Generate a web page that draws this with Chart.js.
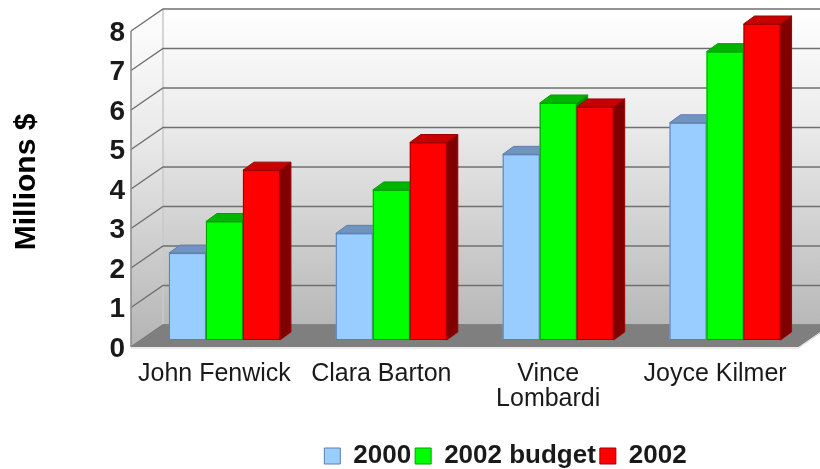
<!DOCTYPE html>
<html><head><meta charset="utf-8">
<script src="https://cdn.jsdelivr.net/npm/chart.js@4/dist/chart.umd.min.js"></script>
<style>html,body{margin:0;padding:0;background:#fff}#wrap{width:820px;height:469px;position:relative}</style>
</head><body><div id="wrap"><canvas id="c" width="820" height="469"></canvas></div>
<script>
// ---- data ----
const categories = [['John Fenwick'], ['Clara Barton'], ['Vince', 'Lombardi'], ['Joyce Kilmer']];
const seriesNames = ['2000', '2002 budget', '2002'];
const values2000 = [2.2, 2.7, 4.7, 5.5];
const valuesBudget = [3.0, 3.8, 6.0, 7.3];
const values2002 = [4.3, 5.0, 5.9, 8.0];
const yTicks = [0, 1, 2, 3, 4, 5, 6, 7, 8];
const yTitle = 'Millions $';

// ---- styles ----
const frontColors = ['#99ccff', '#00ff00', '#ff0000'];
const topColors = ['#7193c0', '#00b400', '#c80000'];
const sideColors = ['#5a7aa4', '#008a00', '#800000'];
const borderColors = ['#5d7fae', '#00a000', '#a00000'];
const FONT = "'Liberation Sans', Arial, sans-serif";
const DEPTH = { dx: 11, dy: -8 };      // bar extrusion
const FRONT = { dx: -10, dy: 7 };      // front plane offset from bar plane
const BACK = { dx: 22, dy: -15 };      // back wall offset from bar plane

const threeD = {
  id: 'threeD',
  afterLayout(chart) {
    const lg = chart.legend;
    if (lg) {
      const h = lg.height;
      lg.left = 202;
      lg.top = 439;
      lg.bottom = lg.top + h;
    }
  },
  beforeDatasetsDraw(chart) {
    const { ctx, chartArea: a, scales: { y } } = chart;
    const vmin = y.min, vmax = y.max;
    const f = v => y.getPixelForValue(v) + FRONT.dy;
    const b = v => y.getPixelForValue(v) + BACK.dy;
    const fl = a.left + FRONT.dx, bl = a.left + BACK.dx;
    const fr = a.right + FRONT.dx, br = a.right + BACK.dx;
    const wallRight = chart.width;
    ctx.save();
    // back wall
    let g = ctx.createLinearGradient(0, b(vmax), 0, b(vmin));
    g.addColorStop(0, '#ffffff'); g.addColorStop(0.35, '#ececec'); g.addColorStop(1, '#b8b8b8');
    ctx.fillStyle = g;
    ctx.fillRect(bl, b(vmax), wallRight - bl, b(vmin) - b(vmax));
    // left wall
    g = ctx.createLinearGradient(0, f(vmax), 0, f(vmin));
    g.addColorStop(0, '#fbfbfb'); g.addColorStop(0.35, '#e9e9e9'); g.addColorStop(1, '#b4b4b4');
    ctx.fillStyle = g;
    ctx.beginPath();
    ctx.moveTo(fl, f(vmax)); ctx.lineTo(bl, b(vmax)); ctx.lineTo(bl, b(vmin)); ctx.lineTo(fl, f(vmin));
    ctx.closePath(); ctx.fill();
    // back wall left edge
    ctx.strokeStyle = '#c8c8c8'; ctx.lineWidth = 1.5;
    ctx.beginPath(); ctx.moveTo(bl, b(vmax)); ctx.lineTo(bl, b(vmin)); ctx.stroke();
    // grid lines
    ctx.strokeStyle = '#707070'; ctx.lineWidth = 1.4;
    yTicks.forEach(v => {
      ctx.beginPath();
      ctx.moveTo(fl, f(v)); ctx.lineTo(bl, b(v)); ctx.lineTo(wallRight, b(v));
      ctx.stroke();
    });
    // floor
    ctx.fillStyle = '#7f7f7f';
    ctx.beginPath();
    ctx.moveTo(fl, f(vmin)); ctx.lineTo(fr, f(vmin)); ctx.lineTo(br, b(vmin)); ctx.lineTo(bl, b(vmin));
    ctx.closePath(); ctx.fill();
    ctx.strokeStyle = '#d8d8d8'; ctx.lineWidth = 1;
    ctx.beginPath(); ctx.moveTo(fl, f(vmin) + 1); ctx.lineTo(fr, f(vmin) + 1); ctx.lineTo(br, b(vmin) + 1); ctx.stroke();
    // front axis line
    ctx.strokeStyle = '#8a8a8a'; ctx.lineWidth = 1.5;
    ctx.beginPath(); ctx.moveTo(fl, f(vmax)); ctx.lineTo(fl, f(vmin)); ctx.stroke();
    ctx.restore();
  },
  afterDatasetsDraw(chart) {
    const { ctx } = chart;
    const n = chart.data.labels.length;
    const nd = chart.data.datasets.length;
    ctx.save();
    ctx.lineWidth = 1;
    for (let i = 0; i < n; i++) {
      for (let d = 0; d < nd; d++) {
        const el = chart.getDatasetMeta(d).data[i];
        const { x, y, base, width } = el.getProps(['x', 'y', 'base', 'width'], true);
        const l = x - width / 2, r = x + width / 2;
        ctx.strokeStyle = borderColors[d];
        // front
        ctx.fillStyle = frontColors[d];
        ctx.fillRect(l, y, width, base - y);
        ctx.strokeRect(l + 0.5, y + 0.5, width - 1, base - y - 1);
        // top
        ctx.fillStyle = topColors[d];
        ctx.beginPath();
        ctx.moveTo(l, y); ctx.lineTo(r, y); ctx.lineTo(r + DEPTH.dx, y + DEPTH.dy); ctx.lineTo(l + DEPTH.dx, y + DEPTH.dy);
        ctx.closePath(); ctx.fill(); ctx.stroke();
        // side
        ctx.fillStyle = sideColors[d];
        ctx.beginPath();
        ctx.moveTo(r, y); ctx.lineTo(r + DEPTH.dx, y + DEPTH.dy); ctx.lineTo(r + DEPTH.dx, base + DEPTH.dy); ctx.lineTo(r, base);
        ctx.closePath(); ctx.fill(); ctx.stroke();
      }
    }
    ctx.restore();
  }
};

const seriesValues = [values2000, valuesBudget, values2002];
new Chart(document.getElementById('c'), {
  type: 'bar',
  data: {
    labels: categories,
    datasets: seriesNames.map((name, k) => ({
      label: name,
      data: seriesValues[k],
      backgroundColor: frontColors[k],
      borderColor: borderColors[k],
      borderWidth: 1,
      categoryPercentage: 0.665,
      barPercentage: 1.0
    }))
  },
  options: {
    responsive: false,
    animation: false,
    devicePixelRatio: 1,
    layout: { padding: { left: 0, top: 24, right: 11, bottom: 0 } },
    plugins: {
      tooltip: { enabled: false },
      legend: {
        position: 'bottom',
        labels: {
          boxWidth: 16, boxHeight: 16, padding: 4,
          color: '#1a1a1a',
          font: { family: FONT, size: 26, weight: 'bold' }
        }
      }
    },
    scales: {
      x: {
        grid: { display: false, drawTicks: false },
        border: { display: false },
        ticks: {
          padding: 22, labelOffset: -10, maxRotation: 0, autoSkip: false,
          color: '#1a1a1a',
          font: { family: FONT, size: 25, lineHeight: 1.0 }
        },
        afterFit(axis) { axis.height = 89; }
      },
      y: {
        min: 0, max: 8,
        grid: { display: false, drawTicks: true, tickLength: 16 },
        border: { display: false },
        afterBuildTicks(axis) { axis.ticks = yTicks.map(v => ({ value: v })); },
        ticks: {
          padding: 0, labelOffset: 9,
          color: '#1a1a1a',
          font: { family: FONT, size: 28, weight: 'bold' }
        },
        title: {
          display: true, text: yTitle, color: '#000',
          padding: { top: 9, bottom: 0 },
          font: { family: FONT, size: 30, weight: 'bold' }
        },
        afterFit(axis) { axis.width = 141; }
      }
    }
  },
  plugins: [threeD]
});
</script>
</body></html>
